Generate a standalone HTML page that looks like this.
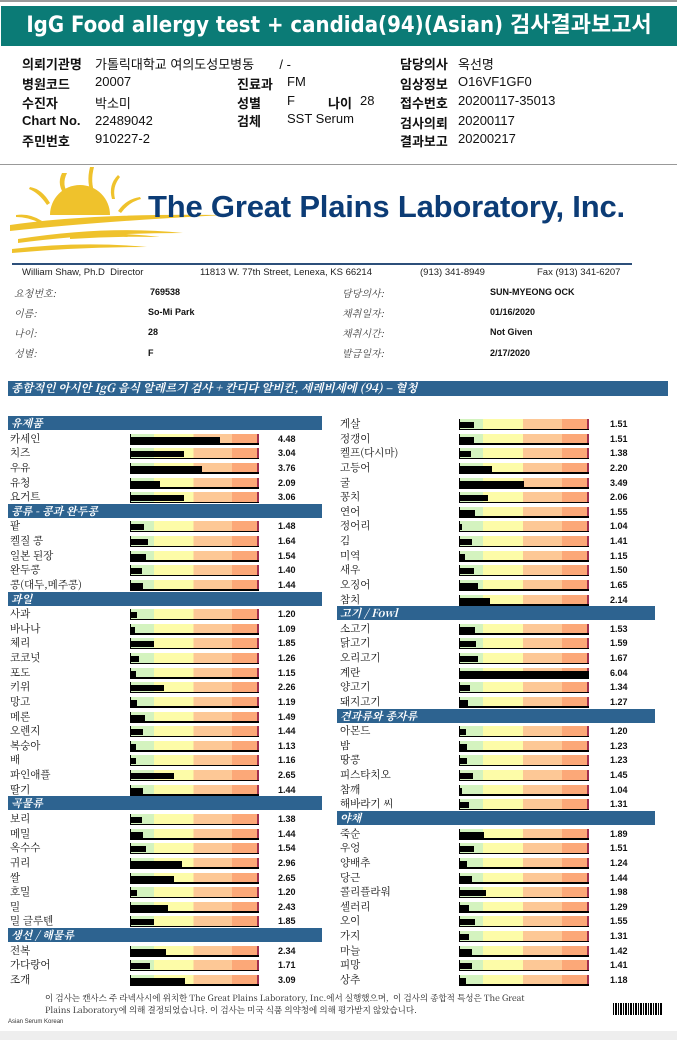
<!DOCTYPE html>
<html><head><meta charset="utf-8">
<style>
body{margin:0;width:677px;height:1040px;background:#fff;position:relative;overflow:hidden;font-family:"Liberation Sans","Noto Sans CJK KR",sans-serif}
.a{position:absolute;white-space:nowrap}
.h{font-size:13px;color:#111}
.hb{font-weight:bold}
.il{font-family:"Noto Serif CJK KR","Liberation Serif",serif;font-style:italic;font-size:10px;color:#444}
.iv{font-size:9px;font-weight:bold;color:#111}
.sec{position:absolute;height:14px;background:#2d6390;color:#fff;font-family:"Noto Serif CJK KR",serif;font-style:italic;font-weight:bold;font-size:11px;line-height:14px;padding-left:3px;box-sizing:border-box}
.lbl{position:absolute;font-family:"Noto Serif CJK KR","Liberation Serif",serif;font-size:10.5px;color:#111;line-height:12px;white-space:nowrap}
.val{position:absolute;font-size:9px;font-weight:bold;color:#111;line-height:12px}
</style></head><body>
<div class="a" style="left:0;top:0;width:677px;height:2px;background:#9a9a9a"></div>
<div class="a" style="left:1px;top:6px;width:676px;height:40px;background:#0b7b76;color:#fff;font-size:22px;font-weight:bold;line-height:40px;text-align:center;font-family:'DejaVu Sans Condensed','Liberation Sans','Noto Sans CJK KR',sans-serif">IgG Food allergy test + candida(94)(Asian) 검사결과보고서</div>

<div>
<div class="a h hb" style="left:22px;top:54px">의뢰기관명</div><div class="a h" style="left:95px;top:54px">가톨릭대학교 여의도성모병동 &nbsp;&nbsp;&nbsp;&nbsp;&nbsp;&nbsp;/ -</div>
<div class="a h hb" style="left:400px;top:54px">담당의사</div><div class="a h" style="left:458px;top:54px">옥선명</div>
<div class="a h hb" style="left:22px;top:74px">병원코드</div><div class="a h" style="left:95px;top:74px">20007</div>
<div class="a h hb" style="left:237px;top:74px">진료과</div><div class="a h" style="left:287px;top:74px">FM</div>
<div class="a h hb" style="left:400px;top:74px">임상정보</div><div class="a h" style="left:458px;top:74px">O16VF1GF0</div>
<div class="a h hb" style="left:22px;top:93px">수진자</div><div class="a h" style="left:95px;top:93px">박소미</div>
<div class="a h hb" style="left:237px;top:93px">성별</div><div class="a h" style="left:287px;top:93px">F</div>
<div class="a h hb" style="left:328px;top:93px">나이</div><div class="a h" style="left:360px;top:93px">28</div>
<div class="a h hb" style="left:400px;top:93px">접수번호</div><div class="a h" style="left:458px;top:93px">20200117-35013</div>
<div class="a h hb" style="left:22px;top:113px">Chart No.</div><div class="a h" style="left:95px;top:113px">22489042</div>
<div class="a h hb" style="left:237px;top:111px">검체</div><div class="a h" style="left:287px;top:111px">SST Serum</div>
<div class="a h hb" style="left:400px;top:113px">검사의뢰</div><div class="a h" style="left:458px;top:113px">20200117</div>
<div class="a h hb" style="left:22px;top:131px">주민번호</div><div class="a h" style="left:95px;top:131px">910227-2</div>
<div class="a h hb" style="left:400px;top:131px">결과보고</div><div class="a h" style="left:458px;top:131px">20200217</div>
</div>
<div class="a" style="left:0;top:164px;width:677px;height:1px;background:#999"></div>

<svg class="a" style="left:0;top:165px" width="300" height="100">
<g fill="#efc22c">
<path d="M50 50 A30 30 0 0 1 110 50 Z"/>
<path d="M62 8 q-6 12 4 24 l3 -2 q-8-10-2-22z"/>
<path d="M90 2 q-4 16 2 28 l3-1 q-5-12-1-27z"/>
<path d="M118 10 q-10 10 -6 24 l3 0 q-3-12 5-22z"/>
<path d="M30 22 q12 2 20 16 l-3 2 q-8-12-18-16z"/>
<path d="M140 32 q-14 2 -22 14 l3 2 q8-11 20-14z"/>
<path d="M16 50 q14-2 26 6 l-2 2 q-12-6-24-6z"/>
<path d="M10 60 q80-12 215-10 q-120 6-215 16z"/>
<path d="M18 74 q90-14 165-6 q-90 0-165 10z"/>
<path d="M12 84 q70-8 135-2 q-70 0-135 6z"/>
<path d="M70 70 q40-4 90 2 q-45-1-90 2z"/>
</g></svg>
<div class="a" style="left:148px;top:189px;font-size:31px;font-weight:bold;color:#0c3c76;letter-spacing:-0.2px">The Great Plains Laboratory, Inc.</div>
<div class="a" style="left:12px;top:263px;width:620px;height:1.5px;background:#2c4f7a"></div>
<div style="font-size:9.5px;color:#222">
<div class="a" style="left:22px;top:267px">William Shaw, Ph.D &nbsp;Director</div>
<div class="a" style="left:200px;top:267px">11813 W. 77th Street, Lenexa, KS 66214</div>
<div class="a" style="left:420px;top:267px">(913) 341-8949</div>
<div class="a" style="left:537px;top:267px">Fax (913) 341-6207</div>
</div>
<div>
<div class="a il" style="left:14px;top:285px">요청번호:</div><div class="a iv" style="left:150px;top:287px">769538</div>
<div class="a il" style="left:342px;top:285px">담당의사:</div><div class="a iv" style="left:490px;top:287px">SUN-MYEONG OCK</div>
<div class="a il" style="left:14px;top:305px">이름:</div><div class="a iv" style="left:148px;top:307px">So-Mi Park</div>
<div class="a il" style="left:342px;top:305px">채취일자:</div><div class="a iv" style="left:490px;top:307px">01/16/2020</div>
<div class="a il" style="left:14px;top:325px">나이:</div><div class="a iv" style="left:148px;top:327px">28</div>
<div class="a il" style="left:342px;top:325px">채취시간:</div><div class="a iv" style="left:490px;top:327px">Not Given</div>
<div class="a il" style="left:14px;top:345px">성별:</div><div class="a iv" style="left:148px;top:348px">F</div>
<div class="a il" style="left:342px;top:345px">발급일자:</div><div class="a iv" style="left:490px;top:348px">2/17/2020</div>
</div>
<div class="sec" style="left:8px;top:381px;width:660px;height:15px;font-size:11.5px">종합적인 아시안 IgG 음식 알레르기 검사 + 칸디다 알비칸, 세레비세에 (94) – 혈청</div>

<div id="chart"></div>

<div class="a" style="left:45px;top:992px;font-family:'Noto Serif CJK KR','Liberation Serif',serif;font-size:8.5px;line-height:12px;color:#222">이 검사는 캔사스 주 라넥사시에 위치한 The Great Plains Laboratory, Inc.에서 실행했으며, &nbsp;이 검사의 종합적 특성은 The Great<br>Plains Laboratory에 의해 결정되었습니다. 이 검사는 미국 식품 의약청에 의해 평가받지 않았습니다.</div>
<div class="a" style="left:8px;top:1019px;font-size:6px;color:#333">Asian Serum Korean</div>
<div class="a" style="left:613px;top:1003px;width:50px;height:12px;background:repeating-linear-gradient(90deg,#000 0 1px,#fff 1px 2px,#000 2px 4px,#fff 4px 5px)"></div>
<div class="a" style="left:0;top:1031px;width:677px;height:9px;background:#eeeeee"></div>

<script>
const leftItems=[["H","유제품"],["카세인",4.48],["치즈",3.04],["우유",3.76],["유청",2.09],["요거트",3.06],["H","콩류 - 콩과 완두콩"],["팥",1.48],["켈질 콩",1.64],["일본 된장",1.54],["완두콩",1.40],["콩(대두,메주콩)",1.44],["H","과일"],["사과",1.20],["바나나",1.09],["체리",1.85],["코코넛",1.26],["포도",1.15],["키위",2.26],["망고",1.19],["메론",1.49],["오렌지",1.44],["복숭아",1.13],["배",1.16],["파인애플",2.65],["딸기",1.44],["H","곡물류"],["보리",1.38],["메밀",1.44],["옥수수",1.54],["귀리",2.96],["쌀",2.65],["호밀",1.20],["밀",2.43],["밀 글루텐",1.85],["H","생선 / 해물류"],["전복",2.34],["가다랑어",1.71],["조개",3.09]];
const rightItems=[["게살",1.51],["정갱이",1.51],["켈프(다시마)",1.38],["고등어",2.20],["굴",3.49],["꽁치",2.06],["연어",1.55],["정어리",1.04],["김",1.41],["미역",1.15],["새우",1.50],["오징어",1.65],["참치",2.14],["H","고기 / Fowl"],["소고기",1.53],["닭고기",1.59],["오리고기",1.67],["계란",6.04],["양고기",1.34],["돼지고기",1.27],["H","견과류와 종자류"],["아몬드",1.20],["밤",1.23],["땅콩",1.23],["피스타치오",1.45],["참깨",1.04],["해바라기 씨",1.31],["H","야채"],["죽순",1.89],["우엉",1.51],["양배추",1.24],["당근",1.44],["콜리플라워",1.98],["셀러리",1.29],["오이",1.55],["가지",1.31],["마늘",1.42],["피망",1.41],["상추",1.18]];
const axisMin=0.95, axisMax=6.04;
const chart=document.getElementById('chart');
function yPos(i){return 423+i*14.63;}
function xScale(v,w){return Math.max(2,Math.min(w,(v-axisMin)/(axisMax-axisMin)*w));}
function drawCol(items,o){
 items.forEach((it,i)=>{
  const c=yPos(i);
  if(it[0]==="H"){
   const s=document.createElement('div');s.className='sec';
   
   
   s.style.cssText=`left:${o.sx}px;top:${c-7}px;width:${o.sw}px`;s.textContent=it[1];chart.appendChild(s);return;
  }
  const l=document.createElement('div');l.className='lbl';
  
  
  l.style.cssText=`left:${o.lx}px;top:${c-5}px`;l.textContent=it[0];chart.appendChild(l);
  const t=document.createElement('div');
  
  
  const w=o.tw;
  t.style.cssText=`position:absolute;left:${o.tx}px;top:${c-4}px;width:${w}px;height:11px;border-left:1px solid #000;background:linear-gradient(90deg,#d4f3bf 0 18%,#fdfca8 18% 49%,#fdc896 49% 79%,#fca878 79% 98.5%,#a2304e 98.5%)`;
  const b=document.createElement('div');
  
  
  b.style.cssText=`position:absolute;left:0;top:3px;height:6px;width:${xScale(it[1],w)}px;background:#000`;
  t.appendChild(b);
  const ln=document.createElement('div');
  ln.style.cssText='position:absolute;left:0;right:0;bottom:0;height:1.5px;background:#000';
  t.appendChild(ln);
  chart.appendChild(t);
  const v=document.createElement('div');v.className='val';
  
  
  v.style.cssText=`left:${o.vx}px;top:${c-5}px`;v.textContent=it[1].toFixed(2);chart.appendChild(v);
 });
}
drawCol(leftItems,{sx:8,sw:314,lx:10,tx:130,tw:128,vx:278});
drawCol(rightItems,{sx:337,sw:318,lx:340,tx:459,tw:129,vx:610});
</script>
</body></html>
